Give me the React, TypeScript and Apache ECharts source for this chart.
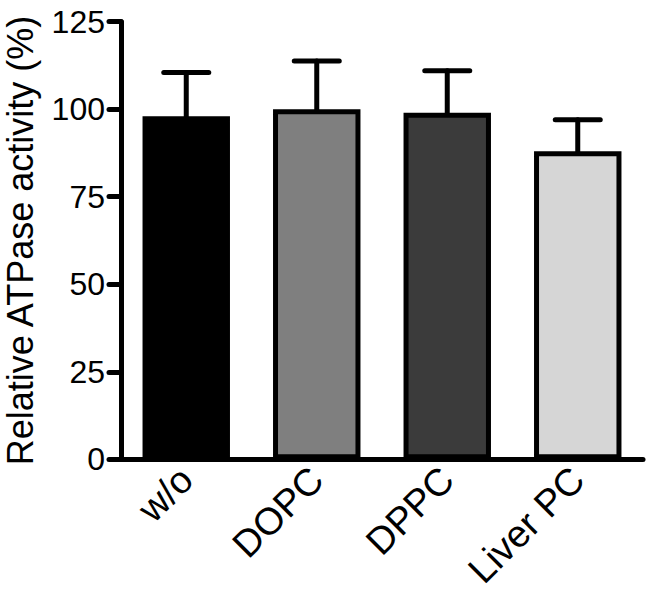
import React, { useEffect, useRef } from "react";
import * as echarts from "echarts";

const categories = ["w/o", "DOPC", "DPPC", "Liver PC"];
const means = [98, 100, 99, 88];
const errors = [12.5, 13.8, 12, 9];
const barColors = ["#000000", "#7f7f7f", "#3b3b3b", "#d6d6d6"];
const yTicks = { min: 0, max: 125, interval: 25 };
const yTitle = "Relative ATPase activity (%)";

const FONT = "'Liberation Sans', Arial, Helvetica, sans-serif";

export default function App() {
  const ref = useRef<HTMLDivElement>(null);
  useEffect(() => {
    if (!ref.current) return;
    const chart = echarts.init(ref.current, null, { renderer: "svg" });
    const errData = categories.map((_, i) => [i, means[i], errors[i]]);
    chart.setOption({
      animation: false,
      backgroundColor: "#ffffff",
      grid: {
        left: 121,
        right: 7,
        top: 21.7,
        bottom: 145.7,
        containLabel: false,
        outerBoundsMode: "none",
      },
      xAxis: {
        type: "category",
        data: categories,
        axisLine: { lineStyle: { color: "#000", width: 5, cap: "round" } },
        axisTick: { alignWithLabel: true, length: 12, lineStyle: { color: "#000", width: 5, cap: "round" } },
        axisLabel: { rotate: 45, fontSize: 38, color: "#000", fontFamily: FONT, margin: 14, interval: 0 },
      },
      yAxis: {
        type: "value",
        min: yTicks.min,
        max: yTicks.max,
        interval: yTicks.interval,
        name: yTitle,
        nameLocation: "middle",
        nameGap: 83,
        nameRotate: 90,
        nameTextStyle: { fontSize: 36, lineHeight: 36, color: "#000", fontFamily: FONT },
        splitLine: { show: false },
        axisLine: { show: true, lineStyle: { color: "#000", width: 5, cap: "round" } },
        axisTick: { show: true, length: 12, lineStyle: { color: "#000", width: 5, cap: "round" } },
        axisLabel: { fontSize: 32, color: "#000", fontFamily: FONT, margin: 16 },
      },
      series: [
        {
          type: "bar",
          data: means.map((v, i) => ({
            value: v,
            itemStyle: { color: barColors[i], borderColor: "#000", borderWidth: 5 },
          })),
          barWidth: "67%",
          z: 3,
        },
        {
          type: "custom",
          data: errData,
          z: 2,
          renderItem: (params: any, api: any) => {
            const x = api.value(0);
            const m = api.value(1);
            const e = api.value(2);
            const base = api.coord([x, m]);
            const top = api.coord([x, m + e]);
            const half = 22.5;
            const style = { stroke: "#000", lineWidth: 5, lineCap: "round" };
            return {
              type: "group",
              children: [
                { type: "line", shape: { x1: base[0], y1: base[1], x2: top[0], y2: top[1] }, style },
                { type: "line", shape: { x1: top[0] - half, y1: top[1], x2: top[0] + half, y2: top[1] }, style },
              ],
            };
          },
        },
      ],
    });
    return () => chart.dispose();
  }, []);
  return (
    <div
      ref={ref}
      style={{ position: "fixed", left: 0, top: 0, width: 650, height: 605, background: "#fff" }}
    />
  );
}
